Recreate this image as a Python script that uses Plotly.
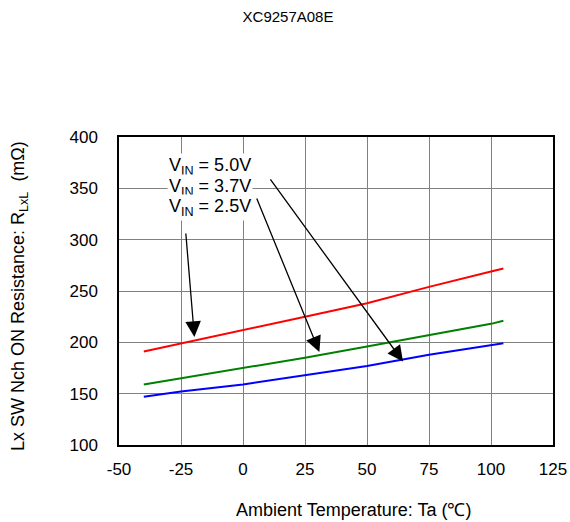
import plotly.graph_objects as go

temps = [-40, -25, 0, 25, 50, 75, 100, 105]
r_vin50 = [191, 199, 212, 225, 238, 254, 269, 272]
r_vin37 = [159, 165, 175, 185, 196, 207, 218, 221]
r_vin25 = [147, 152, 159, 168, 177, 188, 197, 199]

x_ticks = [-50, -25, 0, 25, 50, 75, 100, 125]
y_ticks = [100, 150, 200, 250, 300, 350, 400]

vin_labels = ["V<sub>IN</sub> = 5.0V", "V<sub>IN</sub> = 3.7V", "V<sub>IN</sub> = 2.5V"]
label_y = [371, 351, 331]

FONT = "Liberation Sans, Arial, sans-serif"

fig = go.Figure()
for vals, col in [(r_vin50, "#ff0000"), (r_vin37, "#008000"), (r_vin25, "#0000ff")]:
    fig.add_trace(go.Scatter(x=temps, y=vals, mode="lines",
                             line=dict(color=col, width=2),
                             showlegend=False, hoverinfo="skip"))

# arrows (tail -> head) in data coords
arrows = [((-23.1, 307.5), (-19.6, 205.2)),
          ((5.3, 341.6), (30.8, 190.6)),
          ((10.6, 360.1), (64.5, 181.3))]
for (tx, ty), (hx, hy) in arrows:
    fig.add_annotation(x=hx, y=hy, ax=tx, ay=ty, xref="x", yref="y",
                       axref="x", ayref="y", text="", showarrow=True,
                       arrowhead=2, arrowsize=2.4, arrowwidth=1.3,
                       arrowcolor="black")

for txt, yy in zip(vin_labels, label_y):
    fig.add_annotation(x=-30.5, y=yy, xref="x", yref="y", xanchor="left",
                       yanchor="middle", showarrow=False, text=txt, align="left",
                       font=dict(family=FONT, size=18, color="black"),
                       bgcolor="white", borderpad=1)

# axis titles
fig.add_annotation(x=(353 - 119) / 434, y=-(510 - 445) / 308, xref="paper", yref="paper",
                   xanchor="center", yanchor="middle", showarrow=False,
                   text="Ambient Temperature: Ta (℃)",
                   font=dict(family=FONT, size=18, color="black"))
fig.add_annotation(x=(19 - 119) / 434, y=(445 - 296) / 308, xref="paper", yref="paper",
                   xanchor="center", yanchor="middle", showarrow=False, textangle=-90,
                   text="Lx SW Nch ON Resistance: R<sub>LxL</sub>  (mΩ)",
                   font=dict(family=FONT, size=18, color="black"))

fig.update_layout(
    width=570, height=522,
    margin=dict(l=119, r=17, t=137, b=77),
    paper_bgcolor="white", plot_bgcolor="white",
    font=dict(family=FONT, size=17, color="black"),
    title=dict(text="XC9257A08E", x=288 / 570, xref="container", xanchor="center",
               y=1 - 17 / 522, yref="container", yanchor="middle",
               font=dict(family=FONT, size=15, color="black")),
)
fig.update_xaxes(range=[-50, 125], tickvals=x_ticks, ticktext=[str(v) for v in x_ticks],
                 showgrid=True, gridcolor="#808080", gridwidth=1,
                 showline=True, linecolor="black", linewidth=1.5, mirror=True,
                 ticks="", zeroline=False, automargin=False, ticklabelstandoff=8)
fig.update_yaxes(range=[100, 400], tickvals=y_ticks, ticktext=[str(v) for v in y_ticks],
                 showgrid=True, gridcolor="#808080", gridwidth=1,
                 showline=True, linecolor="black", linewidth=1.5, mirror=True,
                 ticks="", zeroline=False, automargin=False, ticklabelstandoff=16)

fig.write_html("out.html", config={"displayModeBar": False},
               post_script="document.body.style.margin='0';document.body.style.overflow='hidden';")
